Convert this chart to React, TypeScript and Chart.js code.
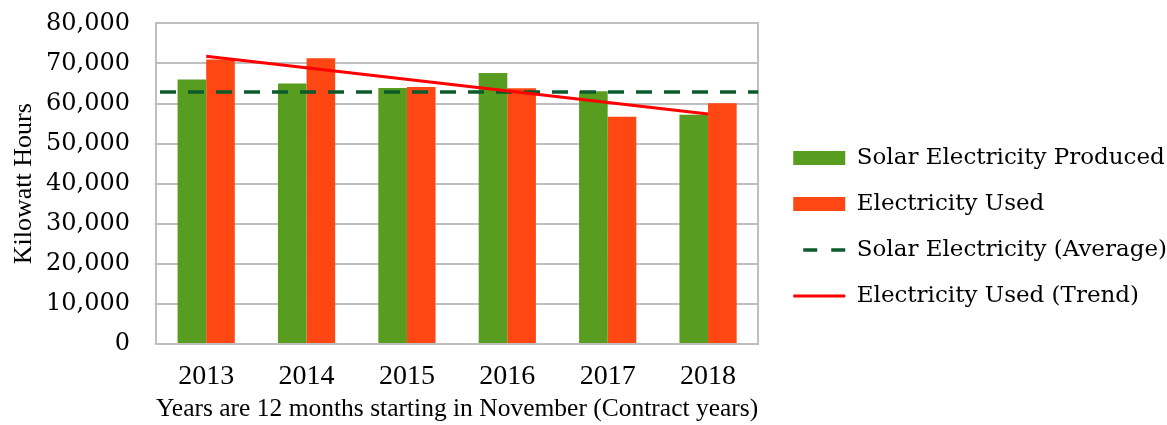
import { useEffect, useRef } from 'react';
import { Chart, registerables } from 'chart.js';

Chart.register(...registerables);

const years = ['2013', '2014', '2015', '2016', '2017', '2018'];
const solarProduced = [66000, 65000, 63900, 67600, 63100, 57200];
const electricityUsed = [71000, 71300, 64100, 63800, 56700, 60100];
const solarAverage = 62900;
const usedTrend = [71800, null, null, null, null, 57400];
const yMin = 0;
const yMax = 80000;
const yStep = 10000;

const seriesNames = [
  'Solar Electricity Produced',
  'Electricity Used',
  'Solar Electricity (Average)',
  'Electricity Used (Trend)',
];
const xTitle = 'Years are 12 months starting in November (Contract years)';
const yTitle = 'Kilowatt Hours';

const GREEN = '#589D1F';
const ORANGE = '#FF4713';
const DARKGREEN = '#0C5B2C';
const RED = '#FF0000';
const GRID = '#BFBFBF';

const averageLinePlugin = {
  id: 'averageLine',
  afterDatasetDraw(chart: any, args: any) {
    if (args.index !== 2 || !chart.isDatasetVisible(2)) return;
    const ds = chart.data.datasets[2];
    const y = chart.scales.y.getPixelForValue(ds.averageValue);
    const { left, right } = chart.chartArea;
    const ctx = chart.ctx;
    ctx.save();
    ctx.strokeStyle = ds.borderColor;
    ctx.lineWidth = ds.borderWidth;
    ctx.setLineDash(ds.borderDash);
    ctx.lineDashOffset = ds.borderDashOffset;
    ctx.beginPath();
    ctx.moveTo(left, y);
    ctx.lineTo(right, y);
    ctx.stroke();
    ctx.restore();
  },
};

export default function App() {
  const ref = useRef<HTMLCanvasElement | null>(null);

  useEffect(() => {
    if (!ref.current) return;
    const chart = new Chart(ref.current, {
      type: 'bar',
      data: {
        labels: years,
        datasets: [
          {
            type: 'bar',
            label: seriesNames[0],
            data: solarProduced,
            backgroundColor: GREEN,
            categoryPercentage: 0.57,
            barPercentage: 1.0,
            order: 2,
          },
          {
            type: 'bar',
            label: seriesNames[1],
            data: electricityUsed,
            backgroundColor: ORANGE,
            categoryPercentage: 0.57,
            barPercentage: 1.0,
            order: 2,
          },
          {
            type: 'line',
            label: seriesNames[2],
            data: [],
            averageValue: solarAverage,
            borderColor: DARKGREEN,
            backgroundColor: DARKGREEN,
            borderWidth: 3.5,
            borderDash: [16, 12],
            borderDashOffset: 24,
            pointRadius: 0,
            showLine: false,
            fill: false,
            order: 1,
          },
          {
            type: 'line',
            label: seriesNames[3],
            data: usedTrend,
            spanGaps: true,
            borderColor: RED,
            backgroundColor: RED,
            borderWidth: 3,
            pointRadius: 0,
            fill: false,
            order: 0,
          },
        ] as any,
      },
      options: {
        animation: false,
        responsive: false,
        layout: { padding: { left: 7, top: 23, right: -10, bottom: -6 } },
        plugins: {
          tooltip: { enabled: false },
          legend: {
            position: 'right',
            maxWidth: 440,
            labels: {
              font: { family: 'DejaVu Serif', size: 23 },
              color: '#000',
              padding: 23,
              boxWidth: 52,
              boxHeight: 14,
              usePointStyle: true,
              pointStyleWidth: 52,
              generateLabels: (c: any) =>
                c.data.datasets.map((ds: any, i: number) => {
                  const isLine = ds.type === 'line';
                  return {
                    text: ds.label,
                    datasetIndex: i,
                    hidden: !c.isDatasetVisible(i),
                    fillStyle: isLine ? 'rgba(0,0,0,0)' : ds.backgroundColor,
                    strokeStyle: isLine ? ds.borderColor : ds.backgroundColor,
                    lineWidth: isLine ? ds.borderWidth : 0,
                    lineDash: i === 2 ? [14, 14] : [],
                    lineDashOffset: i === 2 ? 18 : 0,
                    pointStyle: isLine ? 'line' : 'rect',
                    fontColor: '#000',
                  };
                }),
            },
          },
        },
        scales: {
          x: {
            type: 'category',
            offset: true,
            grid: { display: false, drawTicks: false },
            border: { display: true, color: GRID, width: 2 },
            ticks: {
              font: { family: 'Liberation Serif', size: 28 },
              color: '#000',
              padding: 16,
            },
            title: {
              display: true,
              text: xTitle,
              font: { family: 'Liberation Serif', size: 26 },
              color: '#000',
              padding: { top: 0, bottom: 6 },
            },
            afterFit: (s: any) => {
              s.height = 87;
            },
          },
          y: {
            min: yMin,
            max: yMax,
            grid: {
              color: GRID,
              lineWidth: 2,
              drawTicks: true,
              tickLength: 17,
              tickColor: 'rgba(0,0,0,0)',
            },
            border: { display: true, color: GRID, width: 2 },
            ticks: {
              stepSize: yStep,
              font: { family: 'DejaVu Serif', size: 24 },
              color: '#000',
              padding: 9,
              callback: (v: any) => Number(v).toLocaleString('en-US'),
            },
            title: {
              display: true,
              text: yTitle,
              font: { family: 'Liberation Serif', size: 26 },
              color: '#000',
              padding: { top: 2, bottom: 6 },
            },
            afterFit: (s: any) => {
              s.width = 149;
            },
          },
          y2: {
            position: 'right',
            display: true,
            min: yMin,
            max: yMax,
            grid: { display: false, drawTicks: false },
            ticks: { display: false },
            border: { display: true, color: GRID, width: 2 },
            afterFit: (s: any) => {
              s.width = 12;
            },
          },
        },
      } as any,
      plugins: [averageLinePlugin],
    });
    return () => chart.destroy();
  }, []);

  return (
    <div style={{ position: 'fixed', left: 0, top: 0, width: 1167, height: 425, background: '#fff' }}>
      <canvas ref={ref} width={1167} height={425} style={{ display: 'block' }} />
    </div>
  );
}
